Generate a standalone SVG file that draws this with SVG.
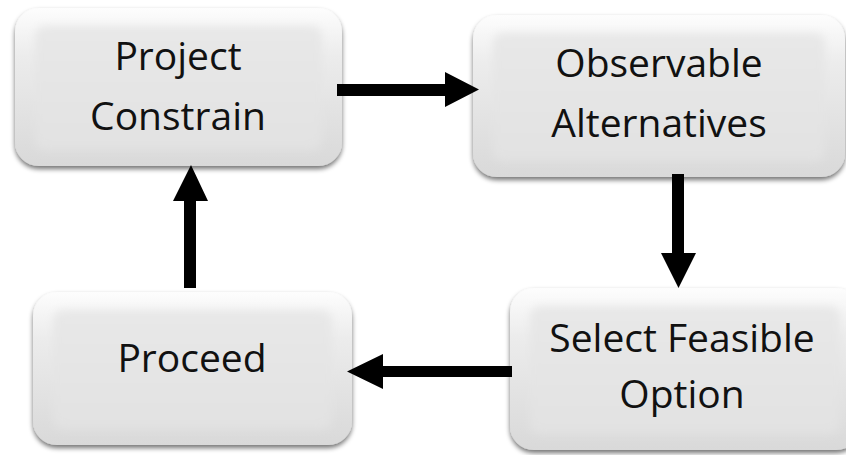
<svg xmlns="http://www.w3.org/2000/svg" width="846" height="455" viewBox="0 0 846 455">
<style>
.lbl{font-family:"Open Sans","Liberation Sans",sans-serif;font-size:39px;fill:#111;text-anchor:middle}
.outer{fill:url(#gOuter);filter:url(#sh)}
.inner{fill:url(#gInner);filter:url(#bl)}
.arr{fill:#000}
</style>
<defs>
<linearGradient id="gOuter" x1="0" y1="0" x2="0" y2="1">
<stop offset="0" stop-color="#fdfdfd"/>
<stop offset="0.3" stop-color="#ececec"/>
<stop offset="1" stop-color="#d9d9d9"/>
</linearGradient>
<linearGradient id="gInner" x1="0" y1="0" x2="0" y2="1">
<stop offset="0" stop-color="#e8e8e8"/>
<stop offset="1" stop-color="#e2e2e2"/>
</linearGradient>
<filter id="sh" x="-10%" y="-10%" width="120%" height="130%">
<feGaussianBlur in="SourceAlpha" stdDeviation="2.5"/>
<feOffset dx="0" dy="3" result="o"/>
<feComponentTransfer><feFuncA type="linear" slope="0.55"/></feComponentTransfer>
<feMerge><feMergeNode/><feMergeNode in="SourceGraphic"/></feMerge>
</filter>
<filter id="bl" x="-10%" y="-10%" width="120%" height="120%">
<feGaussianBlur stdDeviation="4"/>
</filter>
</defs>
<g id="node-project">
<rect class="outer" x="15" y="8" width="327" height="158" rx="24"/>
<rect class="inner" x="35" y="26" width="287" height="124" rx="10"/>
<text class="lbl" x="178" y="70">Project</text>
<text class="lbl" x="178" y="130">Constrain</text>
</g>
<g id="node-observable">
<rect class="outer" x="473" y="15" width="372" height="162" rx="24"/>
<rect class="inner" x="493" y="33" width="332" height="128" rx="10"/>
<text class="lbl" x="659" y="77">Observable</text>
<text class="lbl" x="659" y="137">Alternatives</text>
</g>
<g id="node-proceed">
<rect class="outer" x="33" y="292" width="319" height="153" rx="24"/>
<rect class="inner" x="53" y="310" width="279" height="119" rx="10"/>
<text class="lbl" x="192" y="372">Proceed</text>
</g>
<g id="node-select">
<rect class="outer" x="510" y="288" width="350" height="162" rx="24"/>
<rect class="inner" x="530" y="306" width="310" height="128" rx="10"/>
<text class="lbl" x="682" y="352">Select Feasible</text>
<text class="lbl" x="682" y="408">Option</text>
</g>
<g id="connectors">
<polygon class="arr" points="337,84 445,84 445,72 479,89.5 445,107 445,96 337,96"/>
<polygon class="arr" points="672,174 684,174 684,253 696,253 678.5,288 661,253 672,253"/>
<polygon class="arr" points="512,366 383,366 383,354 347,371.5 383,389 383,377 512,377"/>
<polygon class="arr" points="184,288 196,288 196,201 208,201 191,165 173,201 184,201"/>
</g>
</svg>
